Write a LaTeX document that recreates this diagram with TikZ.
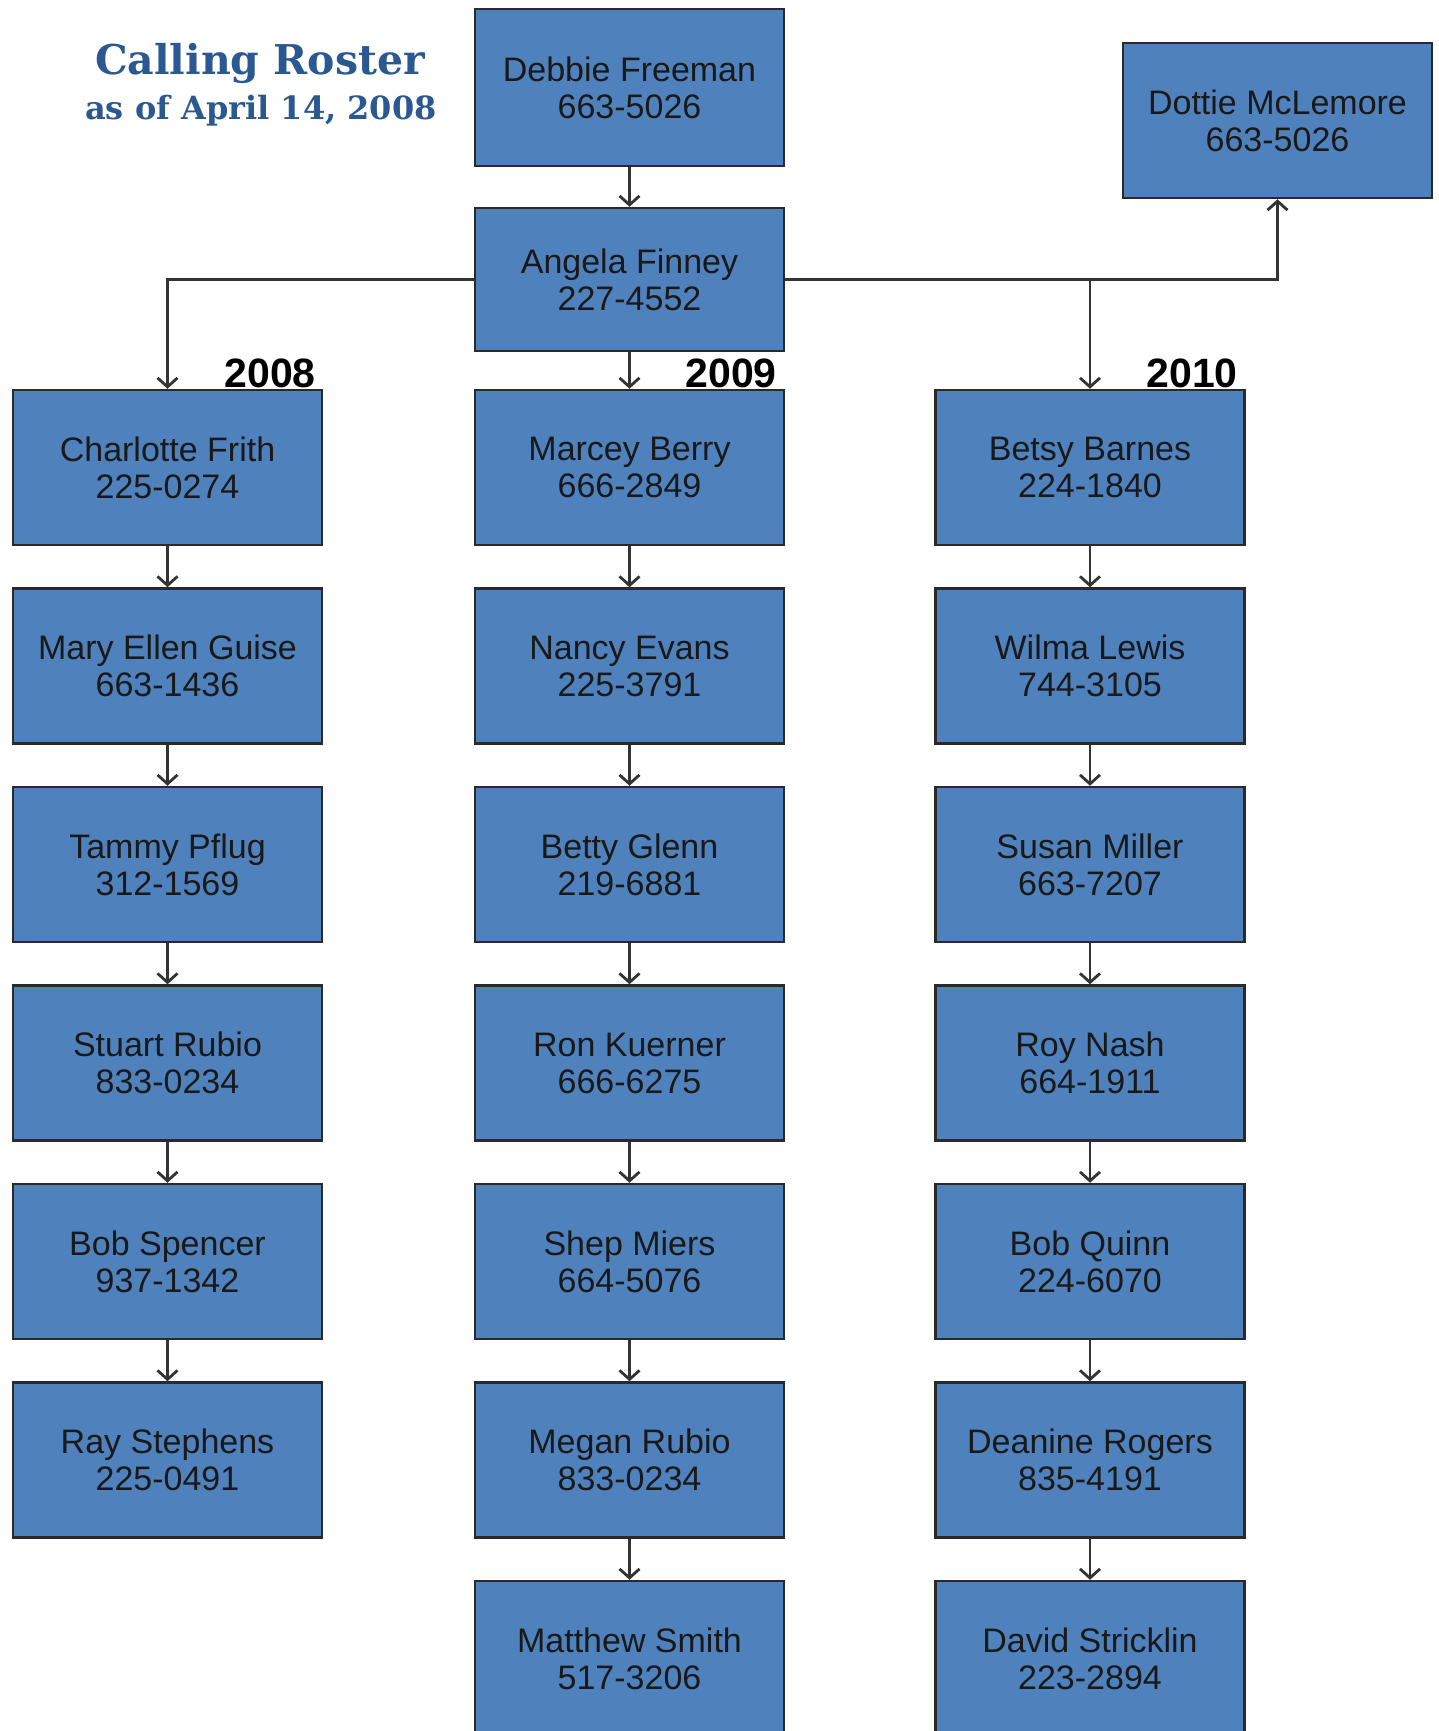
\documentclass[tikz,border=0pt]{standalone}
\usepackage{fontspec}
\setmainfont{Liberation Sans}
\newfontfamily\titlefont{DejaVu Serif}
\usetikzlibrary{arrows.meta}
\definecolor{boxblue}{HTML}{4F81BD}
\definecolor{boxline}{HTML}{2A2A2A}
\definecolor{titleblue}{HTML}{2B5891}
\definecolor{conn}{HTML}{333333}
\tikzset{
  pbox/.style={rectangle, draw=boxline, fill=boxblue, line width=2.5pt,
    minimum width=309pt, minimum height=155pt, align=center, inner sep=0pt,
    text=black!90, font=\fontsize{34}{37}\selectfont},
  link/.style={draw=conn, line width=2.8pt,
    -{Straight Barb[length=9pt,width=20pt,line width=2.8pt]}},
  year/.style={anchor=base east, font=\bfseries\fontsize{41}{41}\selectfont, inner sep=0pt},
  ttl/.style={anchor=base, text=titleblue, inner sep=0pt}
}
\begin{document}
\begin{tikzpicture}[x=1pt,y=-1pt]
\useasboundingbox (0,0) rectangle (1439,1731);
\clip (0,0) rectangle (1439,1731);
\fill[white] (0,0) rectangle (1439,1731);

% title
\node[ttl, font=\titlefont\bfseries\fontsize{41}{41}\selectfont] (t1) at (260,75) {Calling Roster};
\node[ttl, font=\titlefont\bfseries\fontsize{32}{32}\selectfont] (t2) at (261,120) {as of April 14, 2008};

% top
\node[pbox, minimum height=157pt] (deb) at (629.5,87.5) {Debbie Freeman\\663-5026};
\node[pbox, minimum height=143pt] (ang) at (629.5,279.5) {Angela Finney\\227-4552};
\node[pbox] (dot) at (1277.5,120.5) {Dottie McLemore\\663-5026};

% columns
\node[pbox] (a1) at (167.5,467.5) {Charlotte Frith\\225-0274};
\node[pbox] (a2) at (167.5,666) {Mary Ellen Guise\\663-1436};
\node[pbox] (a3) at (167.5,864.5) {Tammy Pflug\\312-1569};
\node[pbox] (a4) at (167.5,1063) {Stuart Rubio\\833-0234};
\node[pbox] (a5) at (167.5,1261.5) {Bob Spencer\\937-1342};
\node[pbox] (a6) at (167.5,1460) {Ray Stephens\\225-0491};

\node[pbox] (b1) at (629.5,467.5) {Marcey Berry\\666-2849};
\node[pbox] (b2) at (629.5,666) {Nancy Evans\\225-3791};
\node[pbox] (b3) at (629.5,864.5) {Betty Glenn\\219-6881};
\node[pbox] (b4) at (629.5,1063) {Ron Kuerner\\666-6275};
\node[pbox] (b5) at (629.5,1261.5) {Shep Miers\\664-5076};
\node[pbox] (b6) at (629.5,1460) {Megan Rubio\\833-0234};
\node[pbox] (b7) at (629.5,1658.5) {Matthew Smith\\517-3206};

\node[pbox] (c1) at (1090,467.5) {Betsy Barnes\\224-1840};
\node[pbox] (c2) at (1090,666) {Wilma Lewis\\744-3105};
\node[pbox] (c3) at (1090,864.5) {Susan Miller\\663-7207};
\node[pbox] (c4) at (1090,1063) {Roy Nash\\664-1911};
\node[pbox] (c5) at (1090,1261.5) {Bob Quinn\\224-6070};
\node[pbox] (c6) at (1090,1460) {Deanine Rogers\\835-4191};
\node[pbox] (c7) at (1090,1658.5) {David Stricklin\\223-2894};

% years
\node[year] (y8) at (316,387) {2008};
\node[year] (y9) at (777,387) {2009};
\node[year] (y10) at (1238,387) {2010};

% connectors
\draw[link] (deb) -- (ang);
\draw[link] (ang) -- (b1);
\draw[link] (ang.west) -| (a1.north);
\coordinate (split) at (c1.north |- ang.east);
\draw[link] (ang.east) -- (split) -- (c1.north);
\draw[link] (split) -| (dot.south);

\foreach \c/\n in {a/6, b/7, c/7}{
  \foreach \i [evaluate=\i as \j using int(\i+1)] in {1,...,\numexpr\n-1\relax}{
    \draw[link] (\c\i) -- (\c\j);
  }
}
\end{tikzpicture}
\end{document}
